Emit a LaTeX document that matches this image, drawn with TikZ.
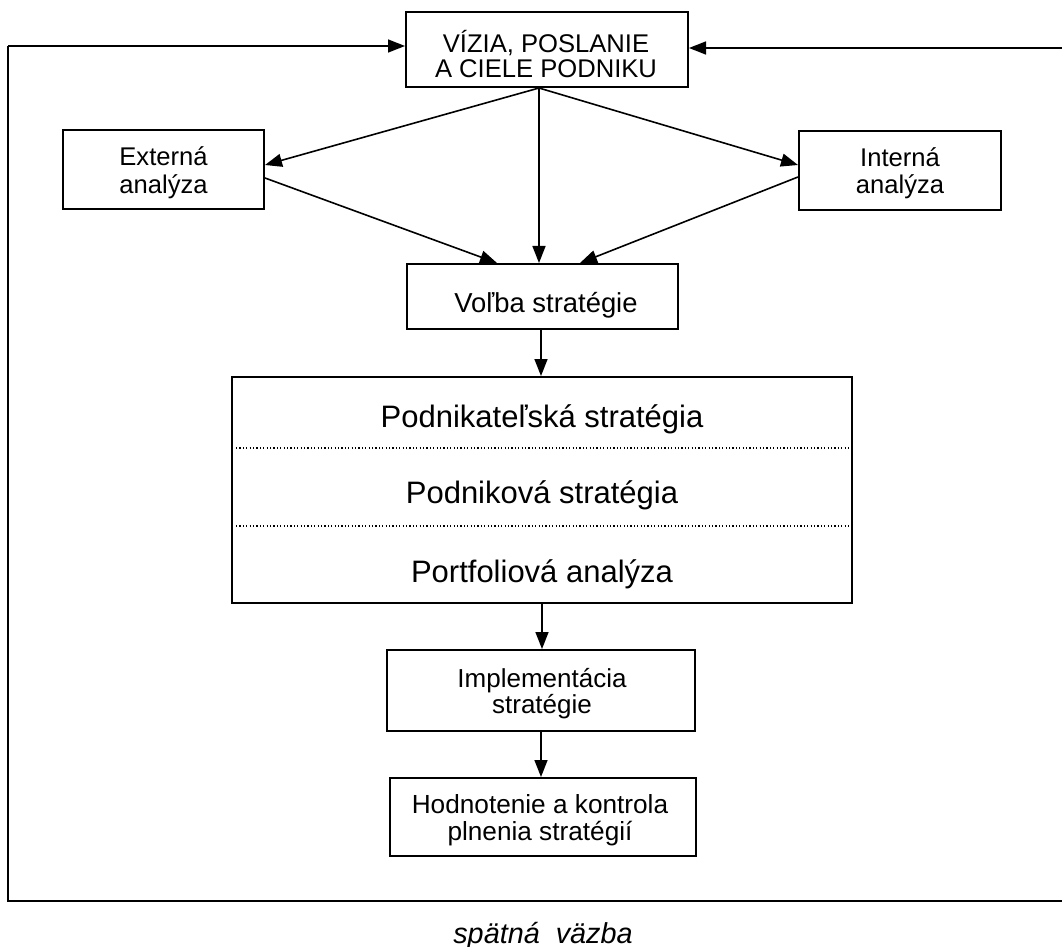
\documentclass[tikz,border=0pt]{standalone}
\usepackage{fontspec}
\setmainfont{Liberation Sans}
\usetikzlibrary{arrows.meta,calc}
\begin{document}
\begin{tikzpicture}[x=0.5pt,y=-0.5pt,
  box/.style={draw,line width=1pt,rectangle,inner sep=0pt},
  txt/.style={anchor=base,inner sep=0pt},
  link/.style={line width=0.8pt,-{Triangle[length=8.5pt,width=6.5pt]}},
  wire/.style={line width=1pt},
  divider/.style={line width=0.6pt,dash pattern=on 0.6pt off 1.1pt},
  small/.style={font=\fontsize{12.8}{14}\selectfont},
  large/.style={font=\fontsize{15.5}{17}\selectfont},
]
\useasboundingbox (0,0) rectangle (1062,947);

% boxes
\node[box,minimum width=141pt,minimum height=37.5pt] (top) at (547,49.5) {};
\node[box,minimum width=100.5pt,minimum height=39.5pt] (ext) at (163.5,169.5) {};
\node[box,minimum width=101pt,minimum height=39.5pt] (int) at (900,170.5) {};
\node[box,minimum width=135.5pt,minimum height=32.5pt] (volba) at (542.5,296.5) {};
\node[box,minimum width=310pt,minimum height=113pt] (big) at (542,490) {};
\node[box,minimum width=154pt,minimum height=40.5pt] (impl) at (541,690.5) {};
\node[box,minimum width=153pt,minimum height=39pt] (hod) at (543,817) {};

% box texts, one node per line
\node[txt,small] (top1) at (546,52.7) {VÍZIA, POSLANIE};
\node[txt,small] (top2) at (546,77.7) {A CIELE PODNIKU};
\node[txt,small] (ext1) at (163.5,165.7) {Externá};
\node[txt,small] (ext2) at (163.5,193.3) {analýza};
\node[txt,small] (int1) at (900,166.5) {Interná};
\node[txt,small] (int2) at (900,194) {analýza};
\node[txt,font=\fontsize{13.7}{15}\selectfont] (volba1) at (546,313) {Voľba stratégie};
\node[txt,large] (s1) at (542,428) {Podnikateľská stratégia};
\node[txt,large] (s2) at (542,503) {Podniková stratégia};
\node[txt,large] (s3) at (542,582) {Portfoliová analýza};
\node[txt,font=\fontsize{13}{14}\selectfont] (impl1) at (542,687) {Implementácia};
\node[txt,font=\fontsize{13}{14}\selectfont] (impl2) at (542,713.3) {stratégie};
\node[txt,font=\fontsize{13.1}{14}\selectfont] (hod1) at (540,813.3) {Hodnotenie a kontrola};
\node[txt,font=\fontsize{13.1}{14}\selectfont] (hod2) at (540,840) {plnenia stratégií};

% dotted dividers inside the strategy box
\draw[divider] ($(big.west)+(5,-42)$) -- ($(big.east)+(-3,-42)$);
\draw[divider] ($(big.west)+(5,36)$) -- ($(big.east)+(-3,36)$);

% flow from the vision box
\coordinate (hub) at ($(top.south)+(-8,0)$);
\draw[link] (hub) -- ($(ext.east)+(0,-4.5)$);
\draw[link] (hub) -- ($(int.west)+(0,-5.5)$);
\draw[link] (hub) -- (hub |- volba.north);
\draw[link] ($(ext.east)+(0,8.5)$) -- ($(volba.north)+(-45.5,0)$);
\draw[link] ($(int.west)+(0,6.5)$) -- ($(volba.north)+(37.5,0)$);
\draw[link] ($(volba.south)+(-1.5,0)$) -- ($(volba.south |- big.north)+(-1.5,0)$);
\draw[link] (big.south) -- (big.south |- impl.north);
\draw[link] (impl.south) -- (impl.south |- hod.north);

% feedback loop
\coordinate (fbBL) at (8,901);
\coordinate (fbBR) at (1070,901);
\coordinate (fbTR) at (1070,48);
\coordinate (inL) at ($(top.west)+(0,-3.5)$);
\coordinate (inR) at ($(top.east)+(0,-1.5)$);
\draw[wire] (fbBR) -- (fbBL) -- (fbBL |- inL);
\draw[link] (fbBL |- inL) -- (inL);
\draw[link] (fbTR) -- (inR);
\node[txt,font=\fontsize{14.4}{16}\selectfont\itshape] (fb) at (543,943)
      {spätná\ \ väzba};
\end{tikzpicture}
\end{document}
